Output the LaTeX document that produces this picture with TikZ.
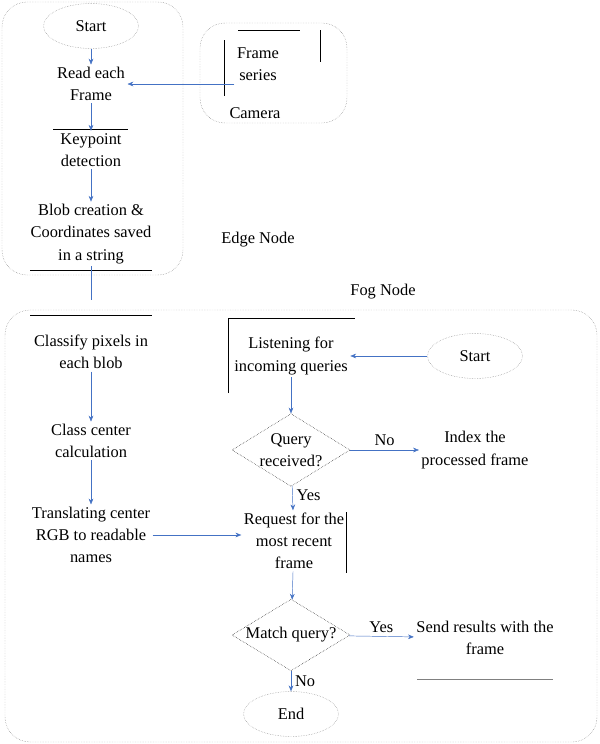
\documentclass[tikz,border=0pt]{standalone}
\usepackage{fontspec}
\setmainfont{Liberation Serif}
\usetikzlibrary{shapes.geometric,arrows.meta}
\definecolor{flowblue}{RGB}{68,114,196}
\newcommand{\pxu}{*0.03cm}
\tikzset{
  flowbox/.style={align=center, font=\rmfamily\fontsize{14}{19}\selectfont, inner sep=2pt},
  term/.style={flowbox, ellipse, draw, densely dotted, gray, text=black, minimum width=95\pxu, minimum height=45\pxu},
  test/.style={flowbox, diamond, draw, densely dotted, text=black, aspect=1.6, minimum width=118\pxu, inner sep=0pt},
  link/.style={flowblue, -{Stealth[length=5pt,width=4pt]}},
  tag/.style={text=black, font=\rmfamily\fontsize{14}{16}\selectfont},
  frame/.style={densely dotted, gray, rounded corners=25\pxu}
}
\begin{document}
\begin{tikzpicture}[x=0.03cm,y=-0.03cm]
\useasboundingbox (0,0) rectangle (600,744);
% containers
\draw[frame] (2,2) rectangle (183,275);
\draw[frame] (5,310) rectangle (597,742);
\draw[frame] (200,23) rectangle (347,123);
\node[tag] (edgelbl) at (258,240) {Edge Node};
\node[tag] (foglbl) at (383,292) {Fog Node};
% edge node
\node[term] (start) at (91,26) {Start};
\node[flowbox] (read) at (91,84) {Read each\\Frame};
\node[flowbox] (frames) at (258,64) {Frame\\series};
\node[tag] (camera) at (255,113) {Camera};
\node[flowbox] (keypt) at (91,150) {Keypoint\\detection};
\node[flowbox] (blob) at (91,234) {Blob creation \&\\Coordinates saved\\in a string};
\draw (53,129) -- (128,129);
\draw (30,270) -- (152,270);
\draw (224,40) -- (224,96);
\draw (238,30) -- (300,30);
\draw (320,30) -- (320,62);
% fog node, left column
\node[flowbox] (classify) at (91,352) {Classify pixels in\\each blob};
\node[flowbox] (center) at (91,441) {Class center\\calculation};
\node[flowbox] (translate) at (91,535) {Translating center\\RGB to readable\\names};
\draw (30,315) -- (152,315);
% fog node, right column
\node[flowbox] (listen) at (291,356) {Listening for\\incoming queries};
\node[term] (start2) at (475,356) {Start};
\node[test] (query) at (291,450) {Query\\received?};
\node[flowbox] (index) at (475,450) {Index the\\processed frame};
\node[flowbox] (request) at (294,541) {Request for the\\most recent\\frame};
\node[test] (match) at (291,635) {Match query?};
\node[flowbox] (send) at (485,638) {Send results with the\\frame};
\node[term] (stop) at (291,714) {End};
\draw (228,393) -- (228,318) -- (355,318);
\draw (346,512) -- (346,573);
\draw[gray] (417,679) -- (553,679);
% connectors
\draw[link] (start) -- (read);
\draw[link] (frames.west |- read.east) -- (read.east);
\draw[link] (read) -- (keypt);
\draw[link] (keypt) -- (blob);
\draw[flowblue] (blob.south) -- (91,300);
\draw[link] (classify) -- (center);
\draw[link] (center) -- (translate);
\draw[link] (start2) -- (listen);
\draw[link] (listen) -- (query);
\draw[link] (query) -- node[tag,above]{No} (index);
\draw[link] (query) -- node[tag,right,pos=0.4]{Yes} (request);
\draw[link] (translate.east) -- (translate.east -| request.west);
\draw[link] (request) -- (match);
\draw[link] (match) -- node[tag,above]{Yes} (send);
\draw[link] (match) -- node[tag,right]{No} (stop);
\end{tikzpicture}
\end{document}
